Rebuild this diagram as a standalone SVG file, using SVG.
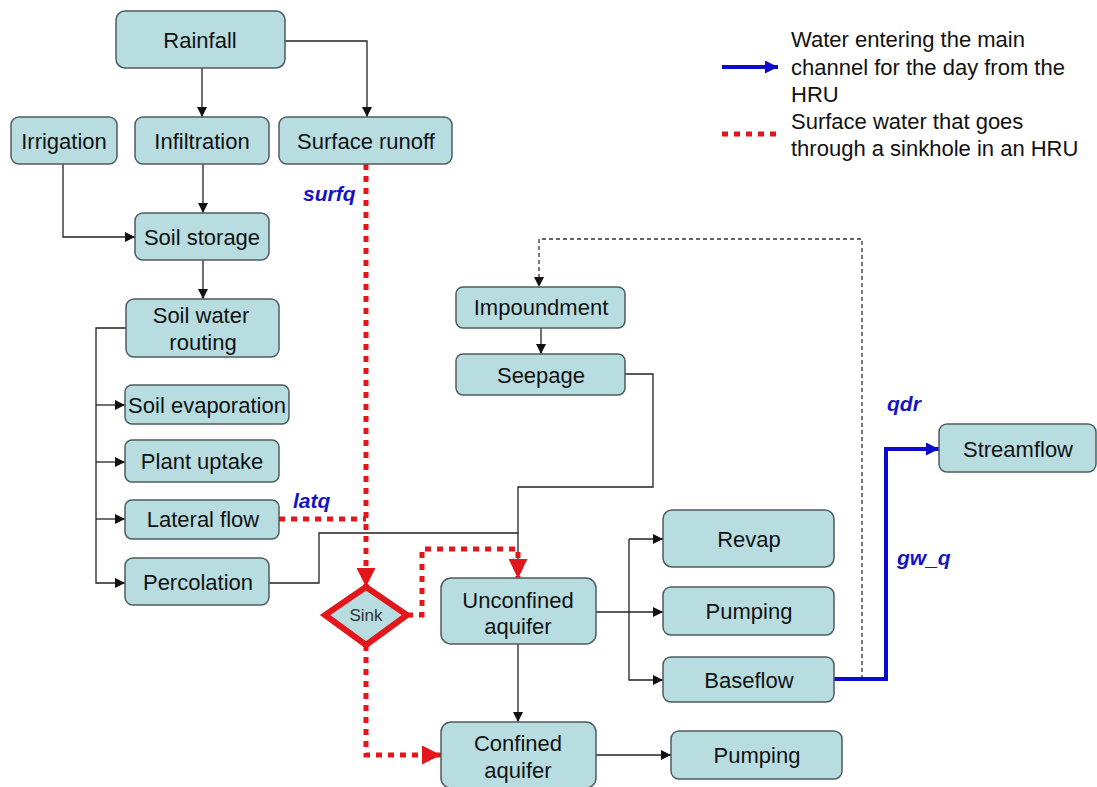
<svg xmlns="http://www.w3.org/2000/svg" width="1097" height="787" viewBox="0 0 1097 787">
  <defs>
    <style>
      .box{fill:#b7dde0;stroke:#4f5c5e;stroke-width:1.5}
      .t{font-family:"Liberation Sans",Arial,sans-serif;font-size:22px;fill:#111;text-anchor:middle}
      .leg{font-family:"Liberation Sans",Arial,sans-serif;font-size:22px;fill:#111}
      .lbl{font-family:"Liberation Sans",Arial,sans-serif;font-size:21px;font-weight:bold;font-style:italic;fill:#1414c4}
      .ln{fill:none;stroke:#222;stroke-width:1.3}
      .red{fill:none;stroke:#e3161c;stroke-width:5;stroke-dasharray:6 6}
      .blue{fill:none;stroke:#0a0ad0;stroke-width:4}
      .dash{fill:none;stroke:#333;stroke-width:1.3;stroke-dasharray:4 3}
    </style>
    <marker id="ah" markerUnits="userSpaceOnUse" markerWidth="10" markerHeight="10" viewBox="0 0 10 10" refX="10" refY="5" orient="auto">
      <path d="M0,0 L10,5 L0,10 z" fill="#111"/>
    </marker>
    <marker id="ahr" markerUnits="userSpaceOnUse" markerWidth="19" markerHeight="19" viewBox="0 0 10 10" refX="10" refY="5" orient="auto">
      <path d="M0,0 L10,5 L0,10 z" fill="#e3161c"/>
    </marker>
    <marker id="ahb" markerUnits="userSpaceOnUse" markerWidth="13" markerHeight="13" viewBox="0 0 10 10" refX="10" refY="5" orient="auto">
      <path d="M0,0 L10,5 L0,10 z" fill="#0a0ad0"/>
    </marker>
  </defs>

  <rect width="1097" height="787" fill="#fff"/>

  <!-- connectors -->
  <g id="connectors">
    <path class="ln" d="M202,68 V117" marker-end="url(#ah)"/>
    <path class="ln" d="M285,41 H367 V117" marker-end="url(#ah)"/>
    <path class="ln" d="M203,164 V213" marker-end="url(#ah)"/>
    <path class="ln" d="M63,164 V237 H135" marker-end="url(#ah)"/>
    <path class="ln" d="M203,260 V299" marker-end="url(#ah)"/>
    <path class="ln" d="M126,328 H96 V583 H125" marker-end="url(#ah)"/>
    <path class="ln" d="M96,405 H125" marker-end="url(#ah)"/>
    <path class="ln" d="M96,462 H125" marker-end="url(#ah)"/>
    <path class="ln" d="M96,519 H125" marker-end="url(#ah)"/>
    <path class="ln" d="M269,583 H319 V533 H518 V578" marker-end="url(#ah)"/>
    <path class="ln" d="M625,374 H653 V487 H518 V533"/>
    <path class="ln" d="M541,328 V354" marker-end="url(#ah)"/>
    <path class="dash" d="M862,679 V239 H539 V287" marker-end="url(#ah)"/>
    <path class="ln" d="M518,644 V722" marker-end="url(#ah)"/>
    <path class="ln" d="M596,612 H663" marker-end="url(#ah)"/>
    <path class="ln" d="M629,539 V680 H663" marker-end="url(#ah)"/>
    <path class="ln" d="M629,539 H663" marker-end="url(#ah)"/>
    <path class="ln" d="M596,755 H671" marker-end="url(#ah)"/>
    <!-- sinkhole routes -->
    <path class="red" d="M366,164 V587" marker-end="url(#ahr)"/>
    <path class="red" d="M279,519 H366"/>
    <path class="red" d="M407,615 H422 V549 H518 V578" marker-end="url(#ahr)"/>
    <path class="red" d="M366,645 V755 H441" marker-end="url(#ahr)"/>
    <!-- main channel -->
    <path class="blue" d="M834,679 H886 V449 H939" marker-end="url(#ahb)"/>
  </g>

  <!-- flow labels -->
  <g id="labels">
    <text class="lbl" x="303" y="201">surfq</text>
    <text class="lbl" x="293" y="508">latq</text>
    <text class="lbl" x="887" y="411">qdr</text>
    <text class="lbl" x="897" y="565">gw_q</text>
  </g>

  <!-- legend -->
  <g id="legend">
    <path class="blue" d="M722,67 H778" marker-end="url(#ahb)"/>
    <path class="red" d="M722,134 H778"/>
    <text class="leg" x="791" y="47">Water entering the main</text>
    <text class="leg" x="791" y="75">channel for the day from the</text>
    <text class="leg" x="791" y="102">HRU</text>
    <text class="leg" x="791" y="129">Surface water that goes</text>
    <text class="leg" x="791" y="156">through a sinkhole in an HRU</text>
  </g>

  <!-- nodes -->
  <g id="rainfall"><rect class="box" x="116" y="11" width="169" height="57" rx="9"/><text class="t" x="200" y="48">Rainfall</text></g>
  <g id="irrigation"><rect class="box" x="11" y="117" width="106" height="47" rx="8"/><text class="t" x="64" y="149">Irrigation</text></g>
  <g id="infiltration"><rect class="box" x="135" y="117" width="134" height="47" rx="8"/><text class="t" x="202" y="149">Infiltration</text></g>
  <g id="surface-runoff"><rect class="box" x="279" y="117" width="173" height="47" rx="8"/><text class="t" x="366" y="149">Surface runoff</text></g>
  <g id="soil-storage"><rect class="box" x="135" y="213" width="134" height="47" rx="8"/><text class="t" x="202" y="245">Soil storage</text></g>
  <g id="soil-water-routing"><rect class="box" x="126" y="299" width="153" height="58" rx="8"/><text class="t" x="201" y="323">Soil water</text><text class="t" x="203" y="350">routing</text></g>
  <g id="soil-evaporation"><rect class="box" x="125" y="385" width="164" height="39" rx="7"/><text class="t" x="207" y="413">Soil evaporation</text></g>
  <g id="plant-uptake"><rect class="box" x="125" y="440" width="154" height="42" rx="7"/><text class="t" x="202" y="469">Plant uptake</text></g>
  <g id="lateral-flow"><rect class="box" x="125" y="500" width="154" height="39" rx="7"/><text class="t" x="203" y="527">Lateral flow</text></g>
  <g id="percolation"><rect class="box" x="125" y="558" width="144" height="47" rx="8"/><text class="t" x="198" y="590">Percolation</text></g>
  <g id="impoundment"><rect class="box" x="456" y="287" width="169" height="41" rx="7"/><text class="t" x="541" y="315">Impoundment</text></g>
  <g id="seepage"><rect class="box" x="456" y="354" width="169" height="41" rx="7"/><text class="t" x="541" y="383">Seepage</text></g>
  <g id="sink"><polygon points="366,587 407,615 366,645 325,615" fill="#b7dde0" stroke="#e3161c" stroke-width="6" stroke-linejoin="miter"/><text x="366" y="621" text-anchor="middle" font-family="Liberation Sans, Arial, sans-serif" font-size="17" fill="#333">Sink</text></g>
  <g id="unconfined-aquifer"><rect class="box" x="441" y="578" width="155" height="66" rx="10"/><text class="t" x="518" y="608">Unconfined</text><text class="t" x="518" y="634">aquifer</text></g>
  <g id="confined-aquifer"><rect class="box" x="441" y="722" width="155" height="66" rx="10"/><text class="t" x="518" y="751">Confined</text><text class="t" x="518" y="778">aquifer</text></g>
  <g id="revap"><rect class="box" x="663" y="510" width="171" height="57" rx="9"/><text class="t" x="749" y="547">Revap</text></g>
  <g id="pumping-shallow"><rect class="box" x="663" y="587" width="171" height="48" rx="8"/><text class="t" x="749" y="619">Pumping</text></g>
  <g id="baseflow"><rect class="box" x="663" y="657" width="171" height="45" rx="8"/><text class="t" x="749" y="688">Baseflow</text></g>
  <g id="pumping-deep"><rect class="box" x="671" y="731" width="171" height="48" rx="8"/><text class="t" x="757" y="763">Pumping</text></g>
  <g id="streamflow"><rect class="box" x="939" y="424" width="157" height="48" rx="8"/><text class="t" x="1018" y="457">Streamflow</text></g>
</svg>
